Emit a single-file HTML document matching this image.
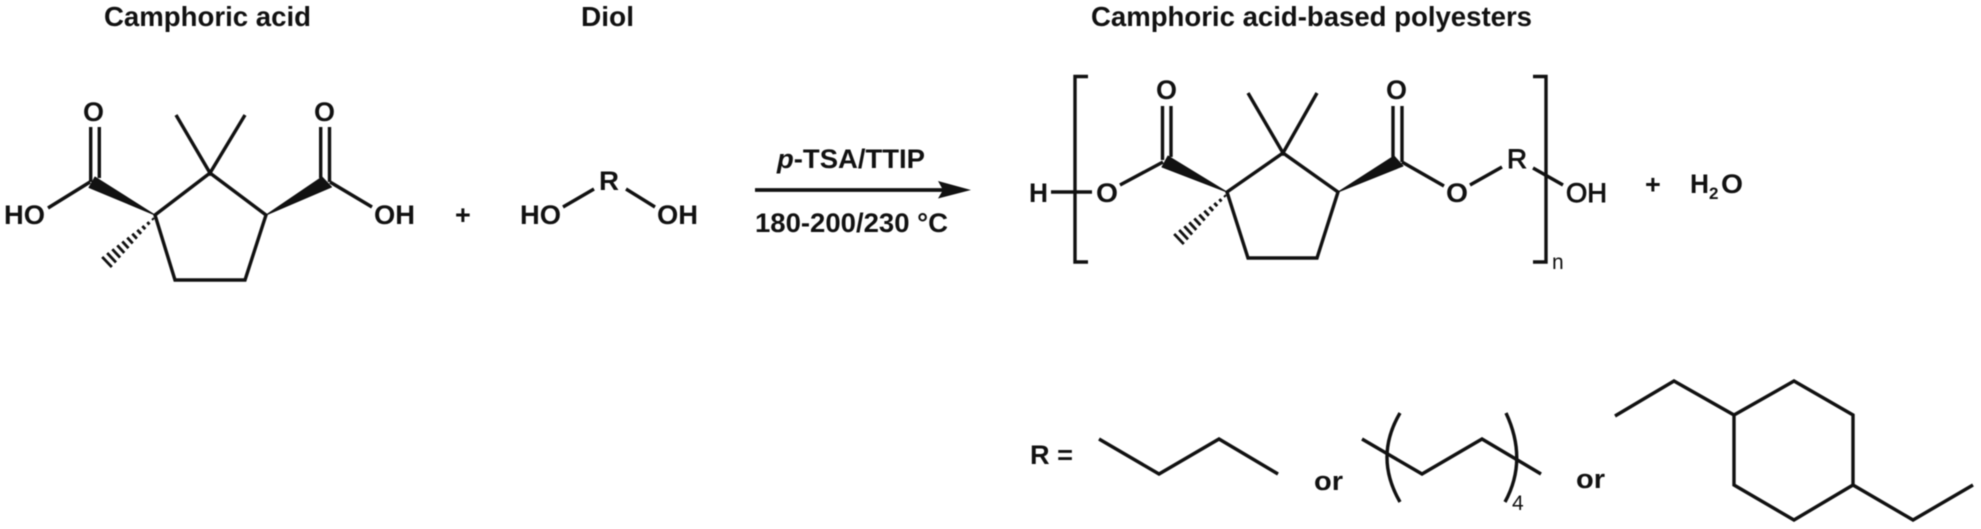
<!DOCTYPE html>
<html lang="en">
<head>
<meta charset="utf-8">
<title>Camphoric acid-based polyesters</title>
<style>
html,body{margin:0;padding:0;background:#fff;width:1981px;height:529px;overflow:hidden}
svg{display:block;filter:blur(0.45px)}
text{font-family:"Liberation Sans",sans-serif;font-weight:700;font-size:27px;fill:#111}
.t{font-size:27.5px}
.r{font-weight:400}
.b{fill:none;stroke:#111;stroke-width:3.4;stroke-linecap:butt;stroke-linejoin:miter}
.h{fill:none;stroke:#111;stroke-width:2.8}
.w{fill:#111;stroke:#111;stroke-width:1;stroke-linejoin:round}
</style>
</head>
<body>
<svg xmlns="http://www.w3.org/2000/svg" width="1981" height="529" viewBox="0 0 1981 529">
<rect width="1981" height="529" fill="#fff"/>
<!-- titles -->
<text class="t" x="104" y="26" textLength="207" lengthAdjust="spacingAndGlyphs">Camphoric acid</text>
<text class="t" x="581" y="26" textLength="53" lengthAdjust="spacingAndGlyphs">Diol</text>
<text class="t" x="1091" y="26" textLength="441" lengthAdjust="spacingAndGlyphs">Camphoric acid-based polyesters</text>

<!-- camphoric acid -->
<g id="hash" class="h">
<path d="M152.3 218.3L153.7 219.7M147.3 222.1L149.5 224.5M142.3 226L145.3 229.2M137.3 229.9L141.1 233.9M132.3 233.7L136.9 238.7M127.3 237.6L132.7 243.4M122.3 241.4L128.5 248.2M117.3 245.3L124.3 252.9M112.3 249.2L120.1 257.6M107.2 253L116 262.4M102.2 256.9L111.8 267.1"/>
</g>
<path class="b" d="M155 215L210 173L266 215L245 280H175ZM176 115L210 173L245 115M48 208L90 182M330 182L372 207M90.7 127V182M99.3 127V178M320.7 127V178M329.5 127V182"/>
<polygon class="w" points="155,215 95,177 89,187.5"/>
<polygon class="w" points="266,215 322,177 331.5,187"/>
<text x="83" y="121" textLength="21" lengthAdjust="spacingAndGlyphs">O</text>
<text x="314" y="121" textLength="21" lengthAdjust="spacingAndGlyphs">O</text>
<text x="4" y="224" textLength="41" lengthAdjust="spacingAndGlyphs">HO</text>
<text x="374" y="224" textLength="41" lengthAdjust="spacingAndGlyphs">OH</text>
<text x="455" y="224">+</text>

<!-- diol -->
<path class="b" d="M563 207L594 189M626 189L655 207"/>
<text x="520" y="224" textLength="41" lengthAdjust="spacingAndGlyphs">HO</text>
<text x="599" y="190" textLength="20" lengthAdjust="spacingAndGlyphs">R</text>
<text x="657" y="224" textLength="41" lengthAdjust="spacingAndGlyphs">OH</text>

<!-- arrow -->
<path class="b" d="M755 190H945" style="stroke-width:3.8"/>
<polygon points="971,190 938,181 943,190 938,198.5" fill="#111"/>
<text x="777" y="168" textLength="148" lengthAdjust="spacingAndGlyphs"><tspan font-style="italic">p</tspan>-TSA/TTIP</text>
<text x="755" y="232" textLength="193" lengthAdjust="spacingAndGlyphs">180-200/230 °C</text>

<!-- polymer -->
<use href="#hash" transform="translate(1072,-23)"/>
<path class="b" d="M1227 192L1283 153L1338 192L1317 258H1248ZM1248 93L1283 153L1317 93M1120 185L1163 162M1402 162L1444 186M1470 185L1502 167M1533 168L1563 185M1051 192H1092M1162.5 106V160M1171 106V157M1393 106V157M1402 106V162"/>
<polygon class="w" points="1227,192 1168,156 1162,167"/>
<polygon class="w" points="1338,192 1394,156 1403,166"/>
<path class="b" d="M1088 76.5H1075V262H1088M1533 76.5H1546V262H1533"/>
<text x="1029" y="202" textLength="19" lengthAdjust="spacingAndGlyphs">H</text>
<text x="1096" y="202" textLength="22" lengthAdjust="spacingAndGlyphs">O</text>
<text x="1156" y="99" textLength="21" lengthAdjust="spacingAndGlyphs">O</text>
<text x="1386" y="99" textLength="21" lengthAdjust="spacingAndGlyphs">O</text>
<text x="1446" y="202" textLength="22" lengthAdjust="spacingAndGlyphs">O</text>
<text class="r" x="1507" y="168" textLength="20" lengthAdjust="spacingAndGlyphs" stroke="#111" stroke-width="0.9">R</text>
<text class="r" x="1566" y="202" textLength="41" lengthAdjust="spacingAndGlyphs" stroke="#111" stroke-width="0.9">OH</text>
<text class="r" x="1552" y="269" style="font-size:21px">n</text>
<text x="1645" y="193.5">+</text>
<text x="1690" y="193" textLength="19" lengthAdjust="spacingAndGlyphs">H</text>
<text x="1709" y="199" style="font-size:17px">2</text>
<text x="1721" y="193" textLength="22" lengthAdjust="spacingAndGlyphs">O</text>

<!-- R groups -->
<text x="1030" y="464" textLength="43" lengthAdjust="spacingAndGlyphs">R =</text>
<path class="b" d="M1099 439L1159 474L1219 439L1278 474"/>
<text x="1314" y="490" textLength="29" lengthAdjust="spacingAndGlyphs">or</text>
<path class="b" d="M1362 439L1422 474L1482 439L1541 474"/>
<path class="b" d="M1400 413Q1374 457 1400 502M1506 413Q1528 460 1505 502"/>
<text class="r" x="1512" y="510" style="font-size:21px">4</text>
<text x="1576" y="488" textLength="29" lengthAdjust="spacingAndGlyphs">or</text>
<path class="b" d="M1615 416L1674 381L1734 415L1794 381L1853 415V485L1794 520L1734 485V415M1853 485L1913 520L1973 485"/>
</svg>
</body>
</html>
